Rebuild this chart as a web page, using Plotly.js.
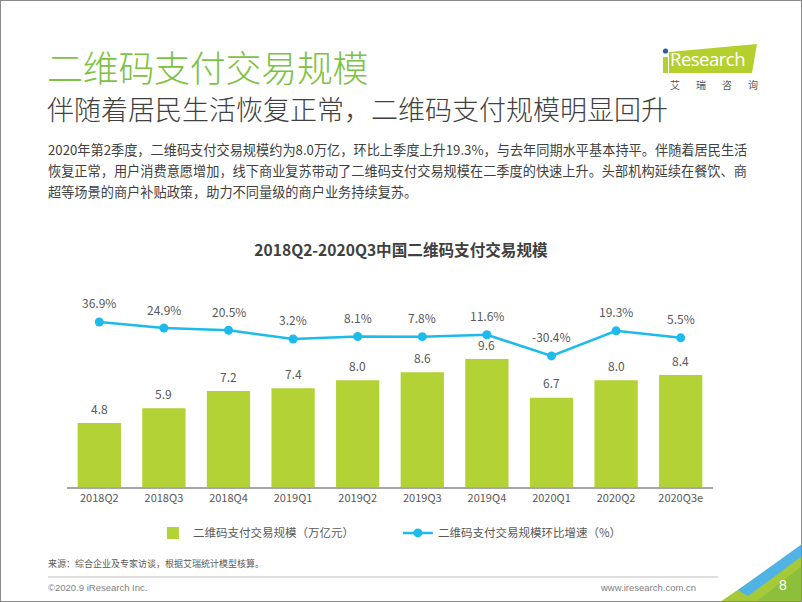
<!DOCTYPE html>
<html><head><meta charset="utf-8">
<script src="https://cdn.plot.ly/plotly-3.0.1.min.js"></script>
<style>
html,body{margin:0;padding:0;background:#fff;}
#page{position:relative;width:802px;height:602px;overflow:hidden;background:#fff;font-family:"Noto Sans CJK SC","Noto Sans",sans-serif;}
#frame{position:absolute;left:0;top:0;width:800px;height:600px;border:1px solid #8a8a8a;pointer-events:none;z-index:5;}
#chart{position:absolute;left:0;top:0;width:802px;height:602px;}
.t{position:absolute;white-space:nowrap;}
</style></head>
<body>
<div id="page">
  <div id="chart"></div>
  <div class="t" style="left:47px;top:40px;font-size:36px;color:#7dc242;font-weight:300;letter-spacing:-0.3px;">二维码支付交易规模</div>
  <div class="t" style="left:47px;top:89px;font-size:27px;color:#404040;font-weight:300;">伴随着居民生活恢复正常，二维码支付规模明显回升</div>
  <div class="t" style="left:48px;top:139px;font-size:13.2px;line-height:21px;color:#404040;">2020年第2季度，二维码支付交易规模约为8.0万亿，环比上季度上升19.3%，与去年同期水平基本持平。伴随着居民生活<br>恢复正常，用户消费意愿增加，线下商业复苏带动了二维码支付交易规模在二季度的快速上升。头部机构延续在餐饮、商<br>超等场景的商户补贴政策，助力不同量级的商户业务持续复苏。</div>
  <svg class="t" style="left:0;top:0;" width="802" height="602">
    <polygon points="669,52 757,44 752,73 669,73" fill="#b5cf2f"/>
    <rect x="663" y="57" width="5" height="16" fill="#b5cf2f"/>
    <circle cx="665.5" cy="51" r="2.6" fill="#2a5caa"/>
    <line x1="48" y1="577" x2="718" y2="577" stroke="#bfbfbf" stroke-width="1"/>
    <polygon points="720,602 802,602 802,546" fill="#a6c93a"/>
    <polygon points="756,602 802,602 802,566" fill="#8cbf3a"/>
    <polygon points="738,590 802,544 802,556 748,596" fill="#4fb3e6"/>
  </svg>
  <div class="t" style="left:670px;top:47px;font-size:18.5px;color:#fff;font-family:'Open Sans',sans-serif;letter-spacing:-0.5px;line-height:24px;">Research</div>
  <div class="t" style="left:670px;top:77px;font-size:10px;color:#595959;letter-spacing:16px;">艾瑞咨询</div>
  <div class="t" style="left:48px;top:557px;font-size:9px;color:#595959;">来源：综合企业及专家访谈，根据艾瑞统计模型核算。</div>
  <div class="t" style="left:48px;top:582px;font-size:9.5px;color:#7f7f7f;font-family:'Liberation Sans',sans-serif;">©2020.9 iResearch Inc.</div>
  <div class="t" style="left:600px;width:96px;text-align:right;top:582px;font-size:9.5px;color:#7f7f7f;font-family:'Liberation Sans',sans-serif;">www.iresearch.com.cn</div>
  <div class="t" style="left:779px;top:577px;font-size:14px;color:#fff;font-family:'Liberation Sans',sans-serif;">8</div>
  <div id="frame"></div>
</div>
<script>
const categories = ["2018Q2","2018Q3","2018Q4","2019Q1","2019Q2","2019Q3","2019Q4","2020Q1","2020Q2","2020Q3e"];
const scaleValues = [4.8, 5.9, 7.2, 7.4, 8.0, 8.6, 9.6, 6.7, 8.0, 8.4];
const growthValues = [36.9, 24.9, 20.5, 3.2, 8.1, 7.8, 11.6, -30.4, 19.3, 5.5];
const barName = "二维码支付交易规模（万亿元）";
const lineName = "二维码支付交易规模环比增速（%）";
const chartTitle = "2018Q2-2020Q3中国二维码支付交易规模";

const labelFont = {family:'"Noto Sans CJK SC", sans-serif', size:12, color:'#595959'};
const traces = [
  {type:'bar', x:categories, y:scaleValues, name:barName, marker:{color:'#b2d235'}, hoverinfo:'skip'},
  {type:'scatter', mode:'lines+markers', x:categories, y:growthValues, yaxis:'y2', name:lineName,
   line:{color:'#1dbbec', width:2.5}, marker:{color:'#1dbbec', size:9}, hoverinfo:'skip'}
];
const annotations = [];
categories.forEach((c,i)=>{
  annotations.push({x:c, y:scaleValues[i], xref:'x', yref:'y', text:scaleValues[i].toFixed(1), showarrow:false, yshift:15, font:labelFont});
  annotations.push({x:c, y:growthValues[i], xref:'x', yref:'y2', text:growthValues[i].toFixed(1)+'%', showarrow:false, yshift:19, font:labelFont});
});
const layout = {
  width:802, height:602,
  margin:{l:67, r:89, t:290, b:115},
  paper_bgcolor:'rgba(0,0,0,0)', plot_bgcolor:'rgba(0,0,0,0)',
  title:{text:chartTitle, x:0.5, xref:'container', xanchor:'center', y:1-251/602, yanchor:'middle',
         font:{family:'"Noto Sans CJK SC", sans-serif', size:15.6, color:'#404040', weight:'bold'}},
  bargap:0.33,
  showlegend:true,
  legend:{orientation:'h', x:0.133, xanchor:'left', y:-0.233, yanchor:'middle',
          font:{family:'"Noto Sans CJK SC", sans-serif', size:11.5, color:'#595959'},
          entrywidth:200, entrywidthmode:'pixels', itemwidth:30},
  xaxis:{type:'category', range:[-0.5,9.5], autorange:false, showline:true, linecolor:'#a6a6a6', linewidth:2, ticks:'', showgrid:false,
         tickfont:{family:'"Noto Sans CJK SC", sans-serif', size:11, color:'#595959'}, fixedrange:true},
  yaxis:{range:[0,14.78], visible:false, showgrid:false, zeroline:false, fixedrange:true},
  yaxis2:{range:[-290,100.2], overlaying:'y', side:'right', visible:false, showgrid:false, zeroline:false, fixedrange:true},
  annotations:annotations
};
Plotly.newPlot('chart', traces, layout, {displayModeBar:false, staticPlot:true});
</script>
</body></html>
